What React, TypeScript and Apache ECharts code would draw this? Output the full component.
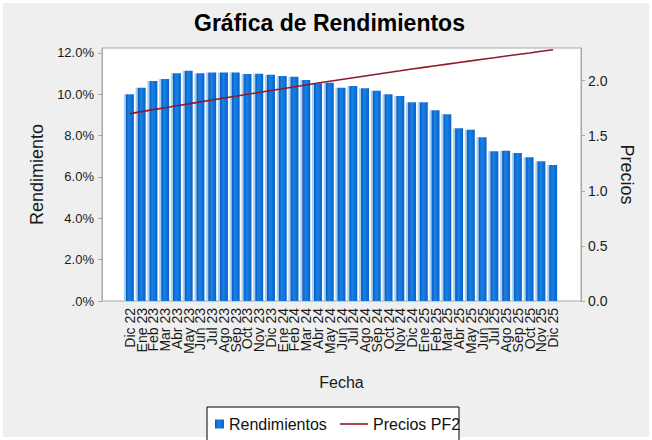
import React, { useEffect, useRef } from "react";
import * as echarts from "echarts";

const categories = [
  "Dic 22", "Ene 23", "Feb 23", "Mar 23", "Abr 23", "May 23", "Jun 23", "Jul 23", "Ago 23", "Sep 23", "Oct 23", "Nov 23",
  "Dic 23", "Ene 24", "Feb 24", "Mar 24", "Abr 24", "May 24", "Jun 24", "Jul 24", "Ago 24", "Sep 24", "Oct 24", "Nov 24",
  "Dic 24", "Ene 25", "Feb 25", "Mar 25", "Abr 25", "May 25", "Jun 25", "Jul 25", "Ago 25", "Sep 25", "Oct 25", "Nov 25",
  "Dic 25",
];

const rendimientos = [
  10.0, 10.32, 10.64, 10.74, 11.02, 11.14, 11.02, 11.05, 11.05, 11.06, 10.98, 11.0,
  10.95, 10.89, 10.85, 10.69, 10.53, 10.56, 10.32, 10.4, 10.29, 10.17, 10.0, 9.92,
  9.61, 9.61, 9.23, 9.03, 8.36, 8.29, 7.92, 7.24, 7.27, 7.16, 6.95, 6.76,
  6.58,
];

const preciosPF2 = [
  1.7, 1.718, 1.736, 1.753, 1.771, 1.788, 1.806, 1.823, 1.841, 1.858, 1.875, 1.892,
  1.909, 1.926, 1.943, 1.96, 1.977, 1.993, 2.009, 2.025, 2.041, 2.057, 2.073, 2.088,
  2.104, 2.119, 2.134, 2.149, 2.164, 2.178, 2.193, 2.207, 2.222, 2.236, 2.25, 2.265,
  2.279,
];

const leftMax = 12.24;
const rightMax = 2.295;
const FONT = "'Liberation Sans', Arial, sans-serif";

export default function App() {
  const ref = useRef<HTMLDivElement>(null);

  useEffect(() => {
    if (!ref.current) return;
    const chart = echarts.init(ref.current, null, { renderer: "svg" });
    const barColor = new echarts.graphic.LinearGradient(0, 0, 1, 0, [
      { offset: 0, color: "#0a58bc" },
      { offset: 0.4, color: "#1682e8" },
      { offset: 1, color: "#0b62ca" },
    ]);
    chart.setOption({
      animation: false,
      backgroundColor: "#efefef",
      textStyle: { fontFamily: FONT },
      title: {
        text: "Gráfica de Rendimientos",
        left: 189,
        top: 6,
        textStyle: { fontFamily: FONT, fontSize: 23, fontWeight: "bold", color: "#000" },
      },
      graphic: [
        {
          type: "rect",
          z: 0,
          shape: { x: 0, y: 0, width: 652, height: 440 },
          style: { fill: "none", stroke: "#ffffff", lineWidth: 6 },
        },
        {
          type: "rect",
          z: 0,
          shape: { x: 207, y: 407, width: 252, height: 40 },
          style: { fill: "#ffffff", stroke: "#000000", lineWidth: 1 },
        },
      ],
      legend: [
        {
          data: [{ name: "Rendimientos", icon: "rect" }],
          left: 210,
          top: 411,
          itemWidth: 9,
          itemHeight: 9,
          itemGap: 6,
          textStyle: { fontFamily: FONT, fontSize: 16, color: "#111" },
        },
        {
          data: [{ name: "Precios PF2", icon: "path://M0,0 L28,0 L28,1.6 L0,1.6 Z" }],
          left: 335,
          top: 411,
          itemWidth: 28,
          itemHeight: 12,
          itemGap: 4,
          textStyle: { fontFamily: FONT, fontSize: 16, color: "#111" },
        },
      ],
      grid: [
        {
          left: 102,
          top: 48,
          width: 479,
          height: 253,
          show: true,
          backgroundColor: "#ffffff",
          borderColor: "#a8a8a8",
          borderWidth: 1,
        },
        { left: 124, top: 48, width: 435, height: 253 },
      ],
      xAxis: [
        { gridIndex: 0, type: "value", show: false, min: 0, max: 1 },
        {
          gridIndex: 1,
          type: "category",
          data: categories,
          axisLine: { show: false },
          axisTick: { show: false },
          axisLabel: {
            interval: 0,
            rotate: 90,
            margin: 7,
            fontSize: 14,
            color: "#1a1a1a",
            fontFamily: FONT,
          },
          name: "Fecha",
          nameLocation: "middle",
          nameGap: 73,
          nameTextStyle: { fontSize: 16, color: "#1a1a1a", fontFamily: FONT },
        },
      ],
      yAxis: [
        {
          gridIndex: 0,
          type: "value",
          position: "left",
          min: 0,
          max: leftMax,
          interval: 2,
          splitLine: { show: false },
          axisLine: { show: true, lineStyle: { color: "#a8a8a8" } },
          axisTick: { show: true, length: 4, lineStyle: { color: "#a8a8a8" } },
          axisLabel: {
            showMaxLabel: false,
            margin: 8,
            fontSize: 13,
            color: "#1a1a1a",
            fontFamily: FONT,
            formatter: (v: number) => (v === 0 ? ".0%" : v.toFixed(1) + "%"),
          },
          name: "Rendimiento",
          nameLocation: "middle",
          nameGap: 56,
          nameTextStyle: { fontSize: 18, color: "#1a1a1a", fontFamily: FONT },
        },
        {
          gridIndex: 0,
          type: "value",
          position: "right",
          min: 0,
          max: rightMax,
          interval: 0.5,
          splitLine: { show: false },
          axisLine: { show: true, lineStyle: { color: "#a8a8a8" } },
          axisTick: { show: true, length: 4, lineStyle: { color: "#a8a8a8" } },
          axisLabel: {
            showMaxLabel: false,
            margin: 7,
            fontSize: 14,
            color: "#1a1a1a",
            fontFamily: FONT,
            formatter: (v: number) => v.toFixed(1),
          },
          name: "Precios",
          nameLocation: "middle",
          nameRotate: -90,
          nameGap: 36,
          nameTextStyle: { fontSize: 18, color: "#1a1a1a", fontFamily: FONT },
        },
        { gridIndex: 1, type: "value", min: 0, max: leftMax, show: false },
        { gridIndex: 1, type: "value", min: 0, max: rightMax, show: false },
      ],
      series: [
        {
          name: "Rendimientos",
          type: "bar",
          xAxisIndex: 1,
          yAxisIndex: 2,
          data: rendimientos,
          barWidth: 8,
          itemStyle: {
            color: barColor,
            shadowColor: "#a6d2f2",
            shadowOffsetX: -2,
            shadowBlur: 0,
          },
        },
        {
          name: "Precios PF2",
          type: "line",
          xAxisIndex: 1,
          yAxisIndex: 3,
          data: preciosPF2,
          symbol: "none",
          z: 5,
          lineStyle: { color: "#8e1b2a", width: 1.6 },
          itemStyle: { color: "#8e1b2a" },
        },
      ],
    });
    return () => chart.dispose();
  }, []);

  return (
    <div
      ref={ref}
      style={{ position: "fixed", left: 0, top: 0, width: 652, height: 440 }}
    />
  );
}
